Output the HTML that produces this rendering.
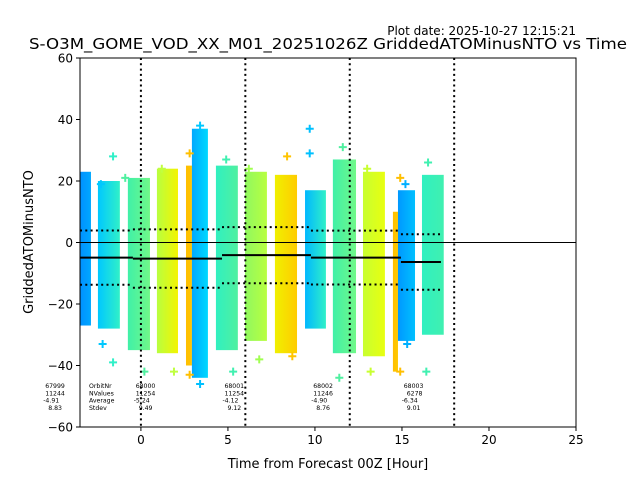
<!DOCTYPE html>
<html><head><meta charset="utf-8"><style>
html,body{margin:0;padding:0;background:#fff;}
svg{display:block;font-family:"DejaVu Sans","Liberation Sans",sans-serif;}
</style></head><body>
<svg id="chart" width="640" height="480" viewBox="0 0 640 480" xmlns="http://www.w3.org/2000/svg">
<text x="576" y="35" font-size="12" text-anchor="end">Plot date: 2025-10-27 12:15:21</text>
<text x="328" y="49" font-size="15.5" text-anchor="middle" textLength="598" lengthAdjust="spacingAndGlyphs">S-O3M_GOME_VOD_XX_M01_20251026Z GriddedATOMinusNTO vs Time</text>
<text x="328" y="468" font-size="13" text-anchor="middle">Time from Forecast 00Z [Hour]</text>
<text transform="translate(33,242) rotate(-90)" font-size="13" text-anchor="middle">GriddedATOMinusNTO</text>
<defs id="defs"></defs>
<g id="plot"></g>
</svg>
<script>
// ---- data ----
const colStart = [-3.5,-2.47,-0.75,0.92,2.59,2.93,4.31,5.98,7.7,9.43,11.03,12.76,14.48,14.77,16.15];
const colEnd   = [-2.87,-1.21,0.52,2.13,2.93,3.85,5.57,7.24,8.97,10.63,12.36,14.02,14.77,15.75,17.4];
const colTop   = [23,20,21,24,25,37,25,23,22,17,27,23,10,17,22];
const colBot   = [-27,-28,-35,-36,-40,-44,-35,-32,-36,-28,-36,-37,-42,-32,-30];
const colLeft  = ['#0090ff','#00c8ff','#40f0a8','#b8ff40','#ffbf00','#00a8ff','#30f0c0','#90f860','#f0f000','#00b8ff','#40f0a8','#c8ff30','#ffbf00','#0098ff','#30f0c0'];
const colRight = ['#00a8ff','#30f0c8','#70f888','#f4f400','#ffc400','#00d8ff','#50f0a0','#b8ff40','#ffcc00','#30f0c8','#70f888','#e8ff10','#ffc800','#00c0ff','#40f0b0'];
const outX = [-1.6,-2.3,-0.9,1.2,2.8,3.4,4.9,6.2,8.4,9.7,9.7,11.6,13.0,14.9,15.2,16.5,-2.2,-1.6,0.2,1.9,2.8,3.4,5.3,6.8,8.7,11.4,13.2,14.9,15.3,16.4];
const outY = [28,19,21,24,29,38,27,24,28,37,29,31,24,21,19,26,-33,-39,-42,-42,-43,-46,-42,-38,-37,-44,-42,-42,-33,-42];
const outC = ['#30f0c8','#00c8ff','#50f0a0','#c0ff40','#ffbf00','#00c8ff','#40f0b0','#a0ff50','#ffc400','#00c0ff','#00c0ff','#50f0a0','#c8ff30','#ffbf00','#00b0ff','#40f0b0','#00c8ff','#30f0c8','#50f0a0','#c0ff40','#ffbf00','#00c0ff','#40f0b0','#a0ff50','#ffc400','#50f0a0','#c8ff30','#ffbf00','#00b0ff','#40f0b0'];
const segStart = [-3.5,-0.46,4.66,9.77,14.94];
const segEnd   = [-0.46,4.66,9.77,14.94,17.24];
const segMean  = [-4.91,-5.24,-4.12,-4.90,-6.34];
const segStd   = [8.83,9.49,9.12,8.76,9.01];
const orbitNr  = ['67999','68000','68001','68002','68003'];
const nValues  = ['11244','11254','11254','11246','6278'];
const labelHour = [-5.5,-0.3,4.8,9.9,15.1];
const vLines = [0,6,12,18];
const xTicks = [0,5,10,15,20,25];
const yTicks = [-60,-40,-20,0,20,40,60];

// ---- axes ----
const X0=80,X1=576,Y0=58,Y1=427;
const xMin=-3.5,xMax=25,yMin=-60,yMax=60;
const xs=v=>X0+(v-xMin)/(xMax-xMin)*(X1-X0);
const ys=v=>Y1-(v-yMin)/(yMax-yMin)*(Y1-Y0);
const NS='http://www.w3.org/2000/svg';
const svg=document.getElementById('chart');
const plot=document.getElementById('plot');
const defs=document.getElementById('defs');
function mk(tag,attrs,parent){const e=document.createElementNS(NS,tag);for(const k in attrs)e.setAttribute(k,attrs[k]);(parent||plot).appendChild(e);return e;}

// columns
for(let i=0;i<colStart.length;i++){
  const g=mk('linearGradient',{id:'g'+i,x1:'0',x2:'1',y1:'0',y2:'0'},defs);
  mk('stop',{offset:'0','stop-color':colLeft[i]},g);
  mk('stop',{offset:'1','stop-color':colRight[i]},g);
  const x=xs(colStart[i]),w=xs(colEnd[i])-x,t=ys(colTop[i]),b=ys(colBot[i]);
  const r=mk('rect',{x:x,y:t,width:w,height:b-t,fill:'url(#g'+i+')'});
  
  
}
// outliers (plus markers)
for(let i=0;i<outX.length;i++){
  const cx=xs(outX[i]),cy=ys(outY[i]);
  const p=mk('path',{d:`M${cx-4},${cy}H${cx+4}M${cx},${cy-4}V${cy+4}`,stroke:outC[i],'stroke-width':2});
  
  
}
// zero line
const z=mk('line',{x1:X0,x2:X1,y1:ys(0),y2:ys(0),stroke:'#000','stroke-width':1});


// mean / std segments
for(let i=0;i<segStart.length;i++){
  const a=xs(segStart[i]),b=xs(segEnd[i]);
  const m=mk('line',{x1:a,x2:b,y1:ys(segMean[i]),y2:ys(segMean[i]),stroke:'#000','stroke-width':2});
  
  
  [1,-1].forEach(s=>{
    const v=segMean[i]+s*segStd[i];
    const d=mk('line',{x1:a,x2:b,y1:ys(v),y2:ys(v),stroke:'#000','stroke-width':2,'stroke-dasharray':'2,3.3'});
    
    
  });
}
// forecast vertical lines
vLines.forEach(h=>{
  const l=mk('line',{x1:xs(h),x2:xs(h),y1:Y0,y2:Y1,stroke:'#000','stroke-width':2,'stroke-dasharray':'2,3.3'});
  
  
});
// orbit stats
for(let i=0;i<orbitNr.length;i++){
  const avg=segMean[i].toFixed(2), sd=segStd[i].toFixed(2);
  const lines=[orbitNr[i],nValues[i],avg,sd];
  const t=mk('text',{x:xs(labelHour[i]),y:388,'font-size':'6.2',fill:'#000'},svg);
  
  
  lines.forEach((s,k)=>{const ts=mk('tspan',{x:xs(labelHour[i])+(s.startsWith('-')?-2:0)+(s.length<5?3:0),dy:k?7.3:0},t);ts.textContent=s;});
}
const lab=mk('text',{x:89,y:388,'font-size':'6.2'},svg);


['OrbitNr','NValues','Average','Stdev'].forEach((s,k)=>{const ts=mk('tspan',{x:89,dy:k?7.3:0},lab);ts.textContent=s;});
// frame
const fr=mk('rect',{x:X0,y:Y0,width:X1-X0,height:Y1-Y0,fill:'none',stroke:'#000','stroke-width':1},svg);


// ticks
xTicks.forEach(v=>{
  const x=xs(v);
  mk('line',{x1:x,x2:x,y1:Y1,y2:Y1+4,stroke:'#000'},svg);
  const t=mk('text',{x:x,y:Y1+17,'font-size':'12','text-anchor':'middle'},svg);
  
  
  t.textContent=v;
});
yTicks.forEach(v=>{
  const y=ys(v);
  mk('line',{x1:X0-4,x2:X0,y1:y,y2:y,stroke:'#000'},svg);
  const t=mk('text',{x:X0-7,y:y+4.5,'font-size':'12','text-anchor':'end'},svg);
  
  
  t.textContent=(v<0?'\u2212':'')+Math.abs(v);
});
</script>
</body></html>
